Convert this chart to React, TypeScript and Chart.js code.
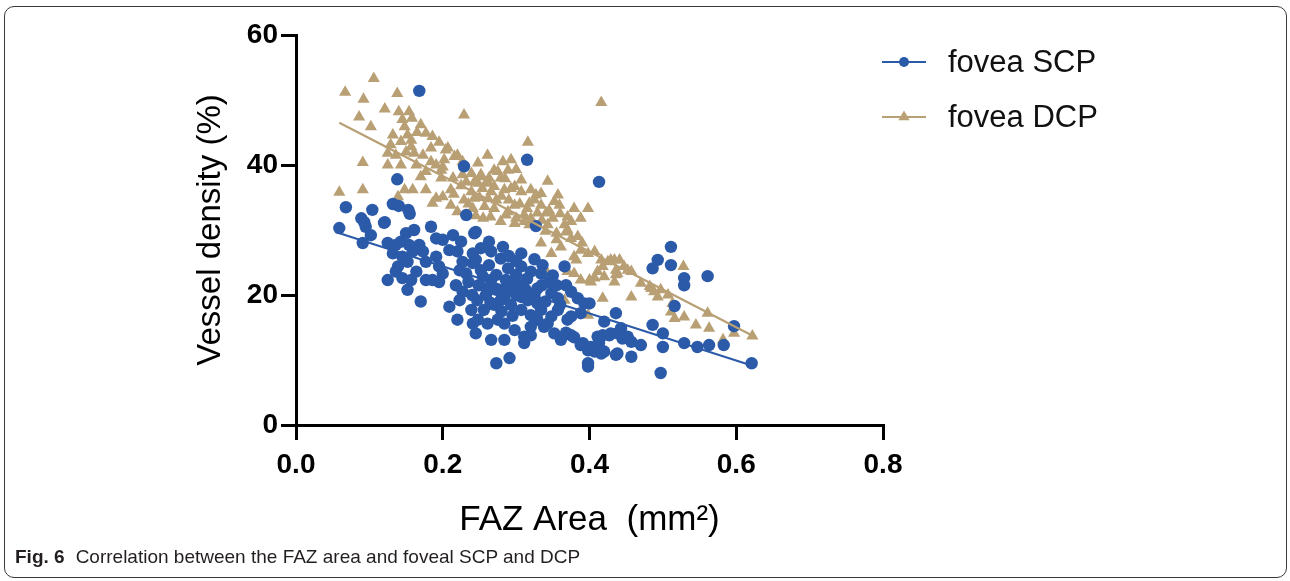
import React, { useEffect, useRef } from "react";
import { Chart, registerables } from "chart.js";

Chart.register(...registerables);

// ---------- data ----------
const seriesLabels = ["fovea SCP", "fovea DCP"];
const xTickValues = [0, 0.2, 0.4, 0.6, 0.8];
const yTickValues = [0, 20, 40, 60];
const xAxisTitle = "FAZ Area  (mm\u00B2)";
const yAxisTitle = "Vessel density (%)";
const captionLabel = "Fig. 6";
const captionText = "Correlation between the FAZ area and foveal SCP and DCP";

// fovea SCP (FAZ area mm², vessel density %)
const scpPoints: [number, number][] = [
  [0.168, 51.4], [0.229, 39.8], [0.315, 40.8], [0.413, 37.4], [0.138, 37.8], [0.068, 33.5], [0.059, 30.3],
  [0.132, 34.0], [0.140, 33.7], [0.153, 33.1], [0.155, 32.5], [0.089, 31.8], [0.093, 31.2], [0.104, 33.1],
  [0.121, 31.2], [0.232, 32.3], [0.327, 30.6], [0.091, 28.0], [0.102, 29.2], [0.095, 30.5], [0.120, 31.1],
  [0.125, 28.0], [0.136, 27.7], [0.143, 28.2], [0.132, 26.4], [0.145, 25.9], [0.139, 24.4], [0.152, 25.1],
  [0.159, 26.7], [0.154, 27.7], [0.150, 29.5], [0.161, 30.0], [0.168, 27.7], [0.173, 26.7],
  [0.125, 22.3], [0.136, 23.6], [0.145, 22.6], [0.157, 22.3], [0.164, 23.6], [0.152, 20.8], [0.170, 19.0],
  [0.177, 25.1], [0.191, 25.9], [0.195, 24.4], [0.200, 23.3], [0.195, 22.0], [0.177, 22.3], [0.186, 22.3],
  [0.184, 30.5], [0.191, 28.7], [0.200, 28.5], [0.214, 29.2], [0.225, 28.2], [0.209, 26.9], [0.220, 26.7],
  [0.227, 25.1], [0.223, 23.8], [0.232, 23.3], [0.241, 24.9], [0.241, 26.4], [0.243, 29.5],
  [0.218, 21.5], [0.227, 20.5], [0.223, 19.2], [0.239, 17.7], [0.241, 15.6], [0.209, 18.2], [0.220, 16.2],
  [0.245, 29.7], [0.263, 28.2], [0.282, 27.4], [0.307, 26.4], [0.279, 25.6], [0.266, 26.7], [0.252, 27.2],
  [0.245, 25.4], [0.252, 23.8], [0.249, 21.5], [0.259, 20.0], [0.247, 19.2], [0.256, 17.7], [0.266, 22.3],
  [0.263, 24.6], [0.289, 24.1], [0.307, 24.4], [0.320, 23.6], [0.336, 24.6], [0.366, 24.4], [0.334, 23.3],
  [0.298, 22.3], [0.309, 21.5], [0.329, 21.0], [0.293, 20.8], [0.284, 19.7], [0.307, 19.7], [0.316, 19.2],
  [0.329, 18.7], [0.348, 20.3], [0.357, 19.5], [0.368, 21.5], [0.375, 20.5], [0.384, 19.5], [0.393, 18.7],
  [0.400, 18.7], [0.388, 17.2], [0.375, 16.7], [0.370, 16.2], [0.357, 17.7], [0.348, 16.7], [0.343, 15.6],
  [0.329, 16.2], [0.320, 15.1], [0.311, 13.6], [0.298, 14.6], [0.284, 15.6], [0.275, 16.2], [0.261, 15.6],
  [0.248, 16.2], [0.245, 14.1], [0.266, 13.1], [0.284, 13.1], [0.311, 12.6], [0.320, 13.8], [0.338, 15.1],
  [0.352, 14.1], [0.361, 13.1], [0.375, 13.8], [0.388, 12.3], [0.402, 12.0], [0.413, 12.6], [0.418, 13.8],
  [0.429, 14.1], [0.436, 17.2], [0.438, 11.0], [0.420, 11.3], [0.398, 9.0], [0.291, 10.3], [0.273, 9.5],
  [0.511, 27.4], [0.493, 25.4], [0.486, 24.1], [0.511, 24.6], [0.529, 22.6], [0.529, 21.5], [0.561, 22.9],
  [0.516, 18.3], [0.420, 15.9], [0.391, 12.6], [0.411, 13.6], [0.427, 13.8], [0.438, 14.1], [0.443, 14.9],
  [0.445, 13.3], [0.452, 13.6], [0.457, 12.8], [0.470, 12.3], [0.398, 11.5], [0.407, 11.3], [0.413, 11.8],
  [0.416, 11.0], [0.436, 10.8], [0.457, 10.5], [0.398, 9.5], [0.486, 15.4], [0.500, 14.1], [0.500, 12.0],
  [0.497, 8.0], [0.529, 12.6], [0.547, 12.0], [0.563, 12.3], [0.583, 12.3], [0.597, 15.2], [0.621, 9.5],
  [0.368, 14.2], [0.379, 13.5], [0.273, 23.1], [0.286, 22.3], [0.300, 21.5], [0.313, 20.8], [0.279, 19.2],
  [0.293, 18.5], [0.307, 17.7], [0.320, 16.9], [0.334, 17.7], [0.286, 20.8], [0.273, 20.8], [0.300, 23.1],
  [0.260, 21.0], [0.270, 18.5], [0.280, 17.5], [0.295, 16.8], [0.300, 20.0], [0.315, 22.5], [0.325, 20.0],
  [0.340, 19.0], [0.345, 22.0], [0.355, 21.5], [0.360, 18.5], [0.335, 21.5], [0.290, 26.0], [0.300, 25.2],
  [0.325, 25.5], [0.350, 23.0], [0.255, 22.8], [0.235, 22.0], [0.240, 20.0], [0.265, 18.8],
];

// fovea DCP
const dcpPoints: [number, number][] = [
  [0.106, 53.3], [0.067, 51.2], [0.092, 50.1], [0.138, 51.0], [0.086, 47.4], [0.121, 48.6], [0.140, 48.2],
  [0.154, 48.2], [0.158, 47.2], [0.229, 47.7], [0.102, 45.9], [0.148, 45.9], [0.170, 46.2], [0.177, 44.9],
  [0.186, 44.4], [0.152, 44.6], [0.132, 44.6], [0.129, 43.1], [0.143, 43.6], [0.157, 43.8], [0.125, 41.8],
  [0.136, 41.5], [0.150, 42.0], [0.161, 41.8], [0.157, 42.8], [0.173, 41.5], [0.184, 40.5], [0.091, 40.4],
  [0.125, 40.0], [0.143, 40.0], [0.164, 40.0], [0.170, 38.2], [0.177, 39.0], [0.191, 40.0], [0.200, 39.7],
  [0.204, 42.3], [0.220, 41.5], [0.227, 40.5], [0.198, 38.0], [0.214, 38.0], [0.227, 38.5], [0.239, 38.7],
  [0.232, 37.4], [0.059, 35.8], [0.091, 36.2], [0.148, 36.2], [0.159, 36.2], [0.177, 36.2], [0.191, 34.9],
  [0.200, 35.1], [0.211, 36.2], [0.211, 33.8], [0.229, 34.6], [0.243, 34.9], [0.139, 35.1], [0.186, 34.1],
  [0.220, 32.8], [0.241, 33.3], [0.416, 49.6], [0.316, 43.5], [0.261, 41.5], [0.248, 40.3], [0.282, 40.5],
  [0.293, 40.8], [0.275, 39.0], [0.252, 38.5], [0.263, 38.0], [0.243, 37.4], [0.343, 37.5], [0.357, 35.4],
  [0.352, 34.4], [0.359, 33.8], [0.379, 33.3], [0.398, 33.3], [0.370, 32.0], [0.388, 31.8], [0.320, 36.2],
  [0.307, 35.9], [0.293, 36.4], [0.284, 36.2], [0.266, 35.9], [0.254, 36.4], [0.239, 35.9], [0.298, 33.8],
  [0.318, 34.1], [0.334, 33.8], [0.329, 32.6], [0.311, 32.3], [0.289, 32.8], [0.270, 33.3], [0.257, 33.6],
  [0.279, 31.3], [0.298, 31.0], [0.311, 31.3], [0.343, 30.8], [0.366, 30.8], [0.375, 31.3], [0.334, 28.0],
  [0.348, 26.4], [0.370, 30.0], [0.375, 28.7], [0.384, 29.0], [0.388, 26.9], [0.379, 25.9], [0.398, 26.4],
  [0.407, 26.7], [0.416, 25.4], [0.425, 25.1], [0.434, 25.4], [0.438, 23.3], [0.420, 22.8], [0.407, 22.6],
  [0.400, 22.3], [0.388, 22.3], [0.379, 23.3], [0.370, 23.6], [0.343, 23.3], [0.418, 19.5], [0.398, 16.9],
  [0.366, 19.2], [0.368, 29.7], [0.429, 25.4], [0.441, 25.4], [0.452, 23.8], [0.436, 23.8], [0.418, 24.4],
  [0.411, 23.6], [0.434, 22.0], [0.402, 22.0], [0.382, 25.4], [0.361, 27.4], [0.470, 21.8], [0.457, 19.7],
  [0.484, 21.0], [0.497, 20.8], [0.493, 19.7], [0.507, 20.0], [0.528, 24.4], [0.511, 17.4], [0.516, 16.4],
  [0.529, 16.6], [0.545, 15.4], [0.563, 14.9], [0.561, 17.2], [0.582, 13.1], [0.597, 14.1], [0.622, 13.7],
  [0.447, 24.4], [0.457, 23.6], [0.436, 23.1], [0.482, 21.3], [0.488, 20.5], [0.513, 18.7], [0.184, 42.6],
  [0.207, 42.6], [0.202, 40.8], [0.216, 41.3], [0.198, 39.2], [0.252, 38.2], [0.259, 37.2], [0.248, 37.2],
  [0.270, 39.2], [0.279, 38.0], [0.289, 39.2], [0.298, 36.7], [0.307, 37.7], [0.325, 34.6], [0.334, 35.6],
  [0.273, 34.6], [0.286, 32.3], [0.300, 31.8], [0.318, 30.8], [0.341, 32.6], [0.327, 35.4],
  [0.215, 35.5], [0.225, 36.8], [0.235, 34.0], [0.250, 35.0], [0.262, 34.8], [0.270, 36.7], [0.280, 35.2],
  [0.290, 34.6], [0.305, 34.0], [0.315, 33.3], [0.320, 31.8], [0.335, 31.5], [0.345, 33.0], [0.350, 31.8],
  [0.355, 29.5], [0.360, 32.5], [0.262, 37.3], [0.285, 37.9], [0.300, 39.3], [0.245, 32.2], [0.255, 31.8],
  [0.265, 32.0], [0.340, 29.8], [0.355, 28.5], [0.390, 28.0], [0.165, 45.0], [0.145, 47.0], [0.195, 43.5],
];

// linear regression lines (end points)
const scpFitX = [0.054, 0.62];
const scpFitY = [29.7, 9.2];
const dcpFitX = [0.059, 0.623];
const dcpFitY = [46.5, 13.7];

// ---------- styles ----------
const BLUE = "#2B5AA9";
const TAN = "#B99F74";
const FONT = "'Liberation Sans', Arial, Helvetica, sans-serif";

const legendPlugin = {
  id: "sideLegend",
  afterDraw(chart: any) {
    const ctx = chart.ctx as CanvasRenderingContext2D;
    const rows = [0, 1];
    rows.forEach((di, i) => {
      const ds = chart.data.datasets[di];
      const y = 62 + i * 55;
      ctx.save();
      ctx.strokeStyle = ds.pointBackgroundColor;
      ctx.fillStyle = ds.pointBackgroundColor;
      ctx.lineWidth = 2;
      ctx.beginPath();
      ctx.moveTo(882, y);
      ctx.lineTo(926, y);
      ctx.stroke();
      const mx = 904;
      ctx.beginPath();
      if (ds.pointStyle === "triangle") {
        const r = 6.5;
        let a = 0;
        ctx.moveTo(mx + Math.sin(a) * r, y - Math.cos(a) * r);
        a += (2 * Math.PI) / 3;
        ctx.lineTo(mx + Math.sin(a) * r, y - Math.cos(a) * r);
        a += (2 * Math.PI) / 3;
        ctx.lineTo(mx + Math.sin(a) * r, y - Math.cos(a) * r);
        ctx.closePath();
      } else {
        ctx.arc(mx, y, 5, 0, Math.PI * 2);
      }
      ctx.fill();
      ctx.fillStyle = "#111";
      ctx.font = `31px ${FONT}`;
      ctx.textBaseline = "middle";
      ctx.textAlign = "left";
      ctx.fillText(ds.label, 948, y + 1);
      ctx.restore();
    });
  },
};

export default function App() {
  const canvasRef = useRef<HTMLCanvasElement | null>(null);

  useEffect(() => {
    const canvas = canvasRef.current;
    if (!canvas) return;
    const tickFont = { family: FONT, size: 28, weight: "bold" as const };
    const chart = new Chart(canvas, {
      type: "scatter",
      data: {
        datasets: [
          {
            label: seriesLabels[0],
            data: scpPoints.map(([x, y]) => ({ x, y })),
            pointBackgroundColor: BLUE,
            pointBorderColor: BLUE,
            pointBorderWidth: 0,
            pointRadius: 6.2,
            pointStyle: "circle",
            backgroundColor: BLUE,
            borderColor: BLUE,
            order: 1,
          } as any,
          {
            label: seriesLabels[1],
            data: dcpPoints.map(([x, y]) => ({ x, y })),
            pointBackgroundColor: TAN,
            pointBorderColor: TAN,
            pointBorderWidth: 0,
            pointRadius: 7,
            pointStyle: "triangle",
            backgroundColor: TAN,
            borderColor: TAN,
            order: 2,
          } as any,
          {
            type: "line",
            label: seriesLabels[0] + " fit",
            data: scpFitX.map((x, i) => ({ x, y: scpFitY[i] })),
            borderColor: BLUE,
            borderWidth: 2,
            pointRadius: 0,
            fill: false,
            order: 0,
          } as any,
          {
            type: "line",
            label: seriesLabels[1] + " fit",
            data: dcpFitX.map((x, i) => ({ x, y: dcpFitY[i] })),
            borderColor: TAN,
            borderWidth: 2.2,
            pointRadius: 0,
            fill: false,
            order: 0,
          } as any,
        ],
      },
      options: {
        animation: false,
        responsive: false,
        maintainAspectRatio: false,
        layout: { padding: { left: 191, top: 35, right: 407, bottom: 40 } },
        plugins: {
          legend: { display: false },
          tooltip: { enabled: false },
          title: { display: false },
        },
        scales: {
          x: {
            type: "linear",
            min: 0,
            max: 0.8,
            afterFit: (s: any) => {
              s.height = 116;
            },
            afterBuildTicks: (s: any) => {
              s.ticks = xTickValues.map((v) => ({ value: v }));
            },
            ticks: {
              callback: (v: any) => Number(v).toFixed(1),
              font: tickFont,
              color: "#000",
              padding: 8,
              maxRotation: 0,
            },
            grid: {
              drawOnChartArea: false,
              drawTicks: true,
              tickLength: 15,
              color: "#000",
              lineWidth: 3,
            },
            border: { display: true, color: "#000", width: 3 },
            title: {
              display: true,
              text: xAxisTitle,
              font: { family: FONT, size: 35 },
              color: "#000",
              padding: 0,
            },
          },
          y: {
            type: "linear",
            min: 0,
            max: 60,
            afterFit: (s: any) => {
              s.width = 105;
            },
            afterBuildTicks: (s: any) => {
              s.ticks = yTickValues.map((v) => ({ value: v }));
            },
            ticks: {
              callback: (v: any) => String(v),
              font: tickFont,
              color: "#000",
              padding: 3,
            },
            grid: {
              drawOnChartArea: false,
              drawTicks: true,
              tickLength: 15,
              color: "#000",
              lineWidth: 3,
            },
            border: { display: true, color: "#000", width: 3 },
            title: {
              display: true,
              text: yAxisTitle,
              font: { family: FONT, size: 33 },
              color: "#000",
              padding: 0,
            },
          },
        },
      } as any,
      plugins: [legendPlugin],
    });
    return () => chart.destroy();
  }, []);

  return (
    <div
      style={{
        position: "absolute",
        left: 0,
        top: 0,
        width: 1290,
        height: 581,
        background: "#fff",
        overflow: "hidden",
      }}
    >
      <div
        style={{
          position: "absolute",
          left: 4,
          top: 6,
          width: 1281,
          height: 570,
          border: "1.5px solid #3a3a3a",
          borderRadius: 10,
        }}
      />
      <canvas
        ref={canvasRef}
        width={1290}
        height={581}
        style={{ position: "absolute", left: 0, top: 0, width: 1290, height: 581 }}
      />
      <div
        style={{
          position: "absolute",
          left: 15,
          top: 546,
          fontFamily: FONT,
          fontSize: 19,
          color: "#231f20",
          whiteSpace: "nowrap",
          lineHeight: "22px",
        }}
      >
        <span style={{ fontWeight: "bold", marginRight: 11 }}>{captionLabel}</span>
        <span>{captionText}</span>
      </div>
    </div>
  );
}
